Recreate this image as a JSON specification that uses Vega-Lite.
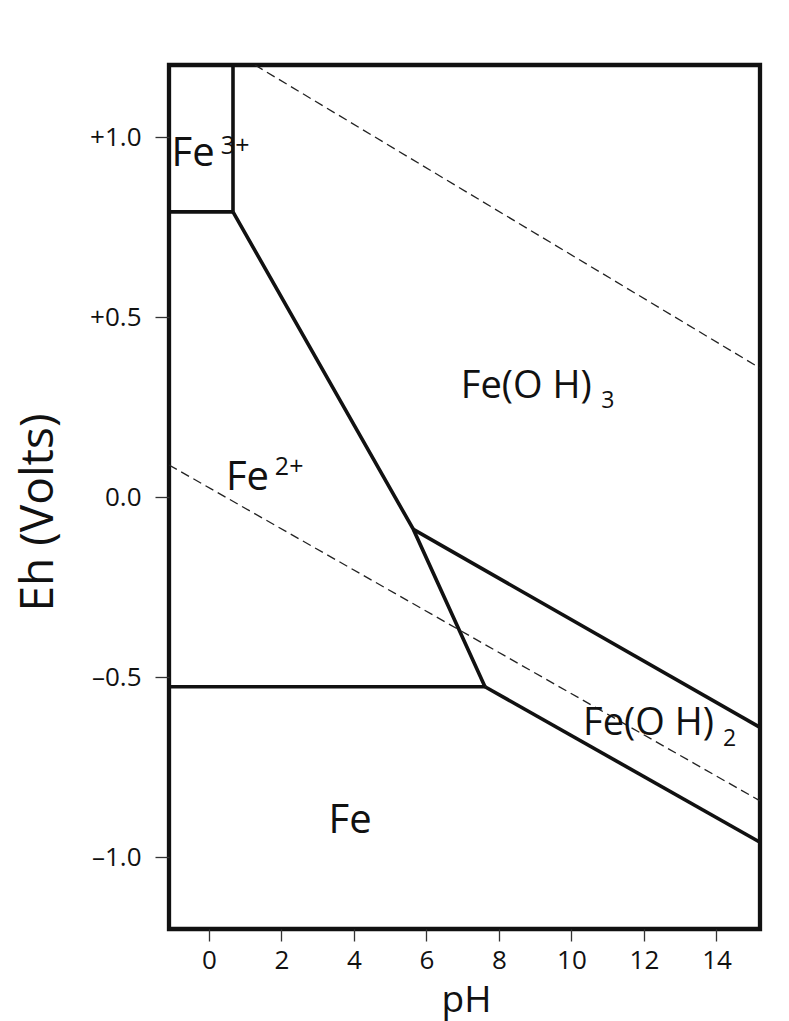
{
  "$schema": "https://vega.github.io/schema/vega-lite/v6.json",
  "width": 591,
  "height": 864,
  "autosize": "none",
  "padding": {"left": 169, "top": 65, "right": 29, "bottom": 92},
  "background": "white",
  "config": {
    "view": {"stroke": "#111", "strokeWidth": 4.3},
    "font": "Open Sans"
  },
  "encoding": {
    "x": {
      "field": "pH", "type": "quantitative",
      "scale": {"domain": [-1.1, 15.2], "nice": false, "zero": false},
      "axis": {
        "title": "pH", "values": [0, 2, 4, 6, 8, 10, 12, 14], "domain": false, "grid": false,
        "tickSize": 12, "tickColor": "#333", "tickWidth": 1.3,
        "labelFontSize": 26, "labelFont": "Open Sans", "labelColor": "#111", "labelPadding": 6,
        "titleFont": "Open Sans", "titleFontSize": 37, "titleFontWeight": "normal", "titleColor": "#111",
        "titleX": 297, "titleY": 82, "titleBaseline": "alphabetic", "titleAlign": "center"
      }
    },
    "y": {
      "field": "Eh", "type": "quantitative",
      "scale": {"domain": [-1.2, 1.2], "nice": false, "zero": false},
      "axis": {
        "title": "Eh (Volts)", "values": [-1, -0.5, 0, 0.5, 1], "domain": false, "grid": false,
        "labelExpr": "datum.value > 0 ? '+' + format(datum.value, '.1f') : (datum.value < 0 ? '–' + format(-datum.value, '.1f') : '0.0')",
        "tickSize": 14, "tickColor": "#333", "tickWidth": 1.3,
        "labelFontSize": 26, "labelFont": "Open Sans", "labelColor": "#111", "labelPadding": 14,
        "titleFont": "Open Sans", "titleFontSize": 46, "titleFontWeight": "normal", "titleColor": "#111",
        "titleAngle": 270, "titleX": -131, "titleY": 447, "titleAlign": "center", "titleBaseline": "middle"
      }
    }
  },
  "layer": [
    {
      "data": {"values": [
        {"seg": "A", "i": 0, "pH": -1.1, "Eh": 0.792},
        {"seg": "A", "i": 1, "pH": 0.665, "Eh": 0.792},
        {"seg": "B", "i": 0, "pH": 0.665, "Eh": 1.2},
        {"seg": "B", "i": 1, "pH": 0.665, "Eh": 0.792},
        {"seg": "C", "i": 0, "pH": 0.665, "Eh": 0.792},
        {"seg": "C", "i": 1, "pH": 5.64, "Eh": -0.09},
        {"seg": "C", "i": 2, "pH": 7.615, "Eh": -0.527},
        {"seg": "D", "i": 0, "pH": -1.1, "Eh": -0.527},
        {"seg": "D", "i": 1, "pH": 7.615, "Eh": -0.527},
        {"seg": "E", "i": 0, "pH": 5.64, "Eh": -0.09},
        {"seg": "E", "i": 1, "pH": 15.2, "Eh": -0.64},
        {"seg": "F", "i": 0, "pH": 7.615, "Eh": -0.527},
        {"seg": "F", "i": 1, "pH": 15.2, "Eh": -0.959}
      ]},
      "mark": {"type": "line", "color": "#111", "strokeWidth": 3.6, "strokeJoin": "miter", "clip": true},
      "encoding": {
        "detail": {"field": "seg", "type": "nominal"},
        "order": {"field": "i", "type": "quantitative"}
      }
    },
    {
      "data": {"values": [
        {"seg": "H2", "i": 0, "pH": -1.1, "Eh": 0.089},
        {"seg": "H2", "i": 1, "pH": 15.2, "Eh": -0.844},
        {"seg": "O2", "i": 0, "pH": 1.27, "Eh": 1.2},
        {"seg": "O2", "i": 1, "pH": 15.2, "Eh": 0.358}
      ]},
      "mark": {"type": "line", "color": "#222", "strokeWidth": 1.3, "strokeDash": [9, 5], "clip": true},
      "encoding": {
        "detail": {"field": "seg", "type": "nominal"},
        "order": {"field": "i", "type": "quantitative"}
      }
    },
    {
      "data": {"values": [
        {"label": "Fe", "pH": -1.03, "Eh": 0.919},
        {"label": "Fe", "pH": 0.47, "Eh": 0.019},
        {"label": "Fe", "pH": 3.3, "Eh": -0.933}
      ]},
      "mark": {"type": "text", "align": "left", "baseline": "alphabetic", "fontSize": 40, "font": "Open Sans", "color": "#111"},
      "encoding": {"text": {"field": "label", "type": "nominal"}}
    },
    {
      "data": {"values": [
        {"label": "Fe(O H)", "pH": 6.95, "Eh": 0.275},
        {"label": "Fe(O H)", "pH": 10.32, "Eh": -0.661}
      ]},
      "mark": {"type": "text", "align": "left", "baseline": "alphabetic", "fontSize": 38, "font": "Open Sans", "color": "#111"},
      "encoding": {"text": {"field": "label", "type": "nominal"}}
    },
    {
      "data": {"values": [
        {"label": "3+", "pH": 0.33, "Eh": 0.952},
        {"label": "2+", "pH": 1.82, "Eh": 0.06}
      ]},
      "mark": {"type": "text", "align": "left", "baseline": "alphabetic", "fontSize": 25, "font": "Open Sans", "color": "#111"},
      "encoding": {"text": {"field": "label", "type": "nominal"}}
    },
    {
      "data": {"values": [
        {"label": "3", "pH": 10.82, "Eh": 0.247},
        {"label": "2", "pH": 14.18, "Eh": -0.692}
      ]},
      "mark": {"type": "text", "align": "left", "baseline": "alphabetic", "fontSize": 23, "font": "Open Sans", "color": "#111"},
      "encoding": {"text": {"field": "label", "type": "nominal"}}
    }
  ]
}
